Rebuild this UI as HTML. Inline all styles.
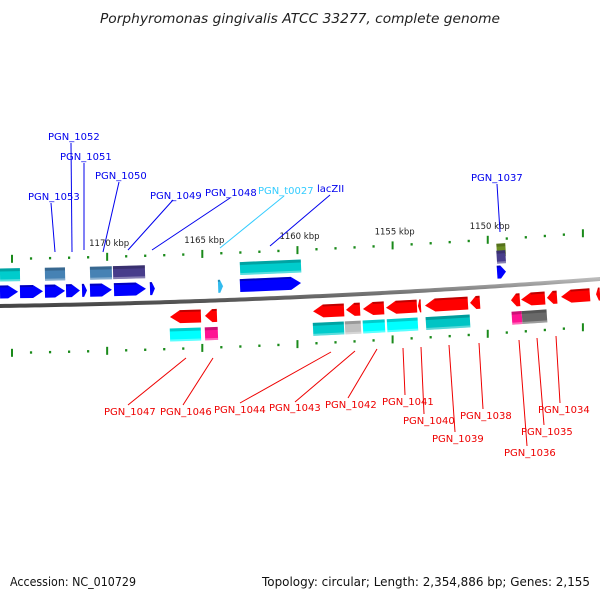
<!DOCTYPE html>
<html><head><meta charset="utf-8"><style>
html,body{margin:0;padding:0;background:#fff;}
svg{display:block;font-family:"DejaVu Sans","Liberation Sans",sans-serif;}
</style></head><body>
<svg id="map" width="600" height="600" viewBox="0 0 600 600">
<defs>
<linearGradient id="bb" x1="0" y1="0" x2="0" y2="1"><stop offset="0" stop-color="#bbb"/><stop offset="0.5" stop-color="#777"/><stop offset="1" stop-color="#444"/></linearGradient>
</defs>
<text x="100" y="23" textLength="400" lengthAdjust="spacingAndGlyphs" font-size="13" font-style="italic" fill="#222">Porphyromonas gingivalis ATCC 33277, complete genome</text>
<g id="ticks"></g>
<path id="backbone" fill="none" stroke="url(#bb)" stroke-width="4"/>
<g id="genes"></g>
<g id="labels"></g>
<text x="10" y="586" textLength="126" lengthAdjust="spacingAndGlyphs" font-size="12" fill="#111">Accession: NC_010729</text>
<text x="262" y="586" textLength="328" lengthAdjust="spacingAndGlyphs" font-size="12" fill="#111">Topology: circular; Length: 2,354,886 bp; Genes: 2,155</text>
</svg>
<script>
// gene data (kbp)
const fwdStart=[1175.63,1174.58,1173.27,1172.16,1171.32,1170.90,1169.64,1167.75,1164.17,1163.02,1149.51];
const fwdEnd  =[1174.68,1173.37,1172.21,1171.43,1171.06,1169.75,1167.96,1167.49,1163.91,1159.81,1149.04];
const fwdColor=["#0000ff","#0000ff","#0000ff","#0000ff","#0000ff","#0000ff","#0000ff","#0000ff","#33bbee","#0000ff","#0000ff"];
const fBoxStart=[1175.63,1173.27,1170.90,1169.69,1163.02];
const fBoxEnd  =[1174.58,1172.21,1169.75,1168.01,1159.81];
const fBoxColor=["#00cccc","#4682b4","#4682b4","#483d8b","#00cccc"];
const revStart=[1166.70,1164.86,1159.18,1157.45,1156.56,1155.35,1153.67,1153.30,1150.93,1148.78,1148.25,1146.89,1146.15,1144.31];
const revEnd  =[1165.07,1164.23,1157.55,1156.71,1155.45,1153.72,1153.51,1151.04,1150.41,1148.31,1146.99,1146.36,1144.63,1144.10];
const rBoxStart=[1166.70,1164.86,1159.18,1157.50,1156.56,1155.29,1153.25,1148.73,1148.20];
const rBoxEnd  =[1165.07,1164.18,1157.55,1156.66,1155.40,1153.67,1150.93,1148.20,1146.89];
const rBoxColor=["#00ffff","#ff1493","#00cccc","#c0c0c0","#00ffff","#00ffff","#00c4c4","#ff1493","#696969"];
const tickMin=1143, tickMax=1176;
const tickLabels=["1170 kbp","1165 kbp","1160 kbp","1155 kbp","1150 kbp"];
const tickLabelKbp=[1170,1165,1160,1155,1150];
const labelText=["PGN_1052","PGN_1051","PGN_1050","PGN_1053","PGN_1049","PGN_1048","PGN_t0027","lacZII","PGN_1037",
 "PGN_1047","PGN_1046","PGN_1044","PGN_1043","PGN_1042","PGN_1041","PGN_1040","PGN_1039","PGN_1038","PGN_1036","PGN_1035","PGN_1034"];
const labelXY=[[48,140],[60,160],[95,179],[28,200],[150,199],[205,196],[258,194],[317,192],[471,181],
 [104,415],[160,415],[214,413],[269,411],[325,408],[382,405],[403,424],[432,442],[460,419],[504,456],[521,435],[538,413]];
const leader=[[71,143,72,252],[84,163,84,250],[119,182,103,252],[51,203,55,252],[173,200,128,250],[230,198,152,250],[284,196,220,248],[330,195,270,246],[497,184,500,232],
 [186,358,128,405],[213,358,183,405],[331,352,240,403],[355,351,295,402],[377,349,348,398],[403,348,405,395],[421,347,424,414],[449,345,455,432],[479,343,483,409],[519,340,527,446],[537,338,544,425],[556,336,560,403]];

const X=k=>12+(1175-k)*19.03;
const Y=x=>306-0.015*x-0.00005*x*x;
const ang=x=>Math.atan(-0.015-0.0001*x)*180/Math.PI;
const NS="http://www.w3.org/2000/svg";
function mk(tag,attrs,parent){const e=document.createElementNS(NS,tag);for(const k in attrs)e.setAttribute(k,attrs[k]);parent.appendChild(e);return e;}

let d="";for(let x=-5;x<=605;x+=5)d+=(x<0?"M":"L")+x+","+Y(x).toFixed(2);
document.getElementById("backbone").setAttribute("d",d);

const tg=document.getElementById("ticks");
for(let k=tickMin;k<=tickMax;k++){
  const x=X(k);if(x<0||x>600)continue;const major=k%5===0;
  [-47,47].forEach(off=>{
    const yy=Y(x)+off;
    const t=mk("line",{x1:x,x2:x,y1:yy-(major?4:1.2),y2:yy+(major?4:1.2),stroke:"#1a8a1a","stroke-width":major?2:2.2},tg);
    
    
  });
}
tickLabels.forEach((s,i)=>{const x=X(tickLabelKbp[i]);
  const t=mk("text",{x:x-18,y:Y(x)-58,"font-size":"8.5",fill:"#222"},tg);t.textContent=s;
  
  
});

const gg=document.getElementById("genes");
function arrow(k1,k2,off,color,dir,name){
  const x1=X(k1),x2=X(k2);const a=Math.min(x1,x2),b=Math.max(x1,x2);const w=b-a;const cx=(a+b)/2;const cy=Y(cx)+off;
  const h=6.5,head=Math.min(10,w*0.6);let pts;
  if(dir>0)pts=[[a,-h],[b-head,-h],[b,0],[b-head,h],[a,h]];
  else pts=[[b,-h],[a+head,-h],[a,0],[a+head,h],[b,h]];
  const g=mk("g",{transform:`rotate(${ang(cx).toFixed(2)} ${cx} ${cy})`},gg);
  const p=mk("polygon",{points:pts.map(q=>q[0]+","+(cy+q[1])).join(" "),fill:color},g);
  
  
  mk("line",{x1:a+(dir<0?head:0),x2:b-(dir>0?head:0),y1:cy-h+1,y2:cy-h+1,stroke:"rgba(0,0,0,0.25)","stroke-width":2},g);
}
function box(k1,k2,off,color,name){
  const x1=X(k1),x2=X(k2);const a=Math.min(x1,x2),b=Math.max(x1,x2);const cx=(a+b)/2;const cy=Y(cx)+off;
  const g=mk("g",{transform:`rotate(${ang(cx).toFixed(2)} ${cx} ${cy})`},gg);
  const r=mk("rect",{x:a,y:cy-6.5,width:b-a,height:13,fill:color},g);
  
  
  mk("rect",{x:a,y:cy-6.5,width:b-a,height:3,fill:"rgba(0,0,0,0.2)"},g);
  mk("rect",{x:a,y:cy+4.5,width:b-a,height:2,fill:"rgba(255,255,255,0.35)"},g);
}
fwdStart.forEach((s,i)=>arrow(s,fwdEnd[i],-14,fwdColor[i],1,'forward-gene'));
fBoxStart.forEach((s,i)=>box(s,fBoxEnd[i],-31,fBoxColor[i],'forward-cog-box'));
box(1149.53,1149.06,-36,"#6b8e23",'forward-cog-box');
box(1149.53,1149.06,-29,"#483d8b",'forward-cog-box');
revStart.forEach((s,i)=>arrow(s,revEnd[i],15,"#ff0000",-1,'reverse-gene'));
rBoxStart.forEach((s,i)=>box(s,rBoxEnd[i],33,rBoxColor[i],'reverse-cog-box'));

const lg=document.getElementById("labels");
labelText.forEach((s,i)=>{
  const top=i<9;const col=s==="PGN_t0027"?"#33ccff":(top?"#0000ee":"#ee0000");
  const L=leader[i];
  const l=mk("line",{x1:L[0],y1:L[1],x2:L[2],y2:L[3],stroke:col,"stroke-width":1},lg);
  
  
  const t=mk("text",{x:labelXY[i][0],y:labelXY[i][1],"font-size":"10",fill:col},lg);t.textContent=s;
  
  
});
</script>
</body></html>
